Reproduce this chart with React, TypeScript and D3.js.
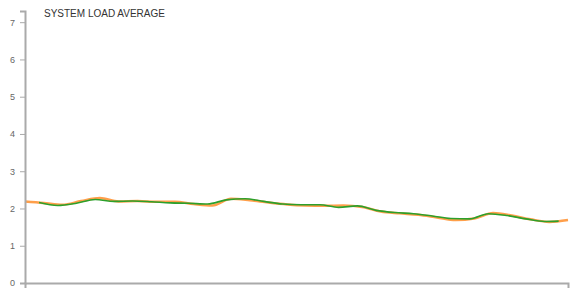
import { useRef, useEffect } from "react";
import * as d3 from "d3";

// minutes since start
const loadTimes = [0, 2, 4, 6, 8, 10, 12, 14, 16, 18, 20, 22, 24, 26, 28, 30, 32, 34, 36, 38, 40, 42, 44, 46, 48, 50, 52, 54, 56, 58];
const loadValues = [2.19, 2.15, 2.1, 2.2, 2.28, 2.19, 2.2, 2.18, 2.18, 2.12, 2.08, 2.26, 2.22, 2.16, 2.11, 2.08, 2.07, 2.08, 2.04, 1.92, 1.87, 1.83, 1.76, 1.69, 1.73, 1.88, 1.81, 1.71, 1.64, 1.69];

const avgTimes = [1.5, 3.5, 5.5, 7.5, 9.5, 11.5, 13.5, 15.5, 17.5, 19.5, 21.5, 23.5, 25.5, 27.5, 29.5, 31.5, 33.5, 35.5, 37.5, 39.5, 41.5, 43.5, 45.5, 47.5, 49.5, 51.5, 53.5, 55.5, 57];
const avgValues = [2.16, 2.08, 2.14, 2.24, 2.19, 2.2, 2.18, 2.15, 2.14, 2.12, 2.23, 2.26, 2.19, 2.12, 2.1, 2.1, 2.03, 2.07, 1.95, 1.89, 1.86, 1.8, 1.73, 1.72, 1.86, 1.81, 1.72, 1.65, 1.66];

const yTicks = [0, 1, 2, 3, 4, 5, 6, 7];
const TITLE = "SYSTEM LOAD AVERAGE";

const COLORS = {
  load: "#ff7f0e",
  avg: "#2ca02c",
  axis: "#aaa",
  axisText: "#666",
  title: "#333",
};

const width = 573;
const height = 289;

export default function App() {
  const svgRef = useRef<SVGSVGElement>(null);

  useEffect(() => {
    document.body.style.margin = "0";
    if (!svgRef.current) return;
    const svg = d3.select(svgRef.current);
    svg.selectAll("*").remove();

    const margin = { top: 11, right: 5, bottom: 6, left: 25 };
    const w = width - margin.left - margin.right;
    const h = height - margin.top - margin.bottom;

    const g = svg.append("g").attr("transform", `translate(${margin.left},${margin.top})`);

    const x = d3.scaleLinear().domain([0, 58]).range([0, w]);
    const y = d3.scaleLinear().domain([0, 7.3]).range([h, 0]);

    const line = d3
      .line<[number, number]>()
      .x((d) => x(d[0]))
      .y((d) => y(d[1]))
      .curve(d3.curveMonotoneX);

    g.append("path")
      .datum(loadTimes.map((t, i) => [t, loadValues[i]] as [number, number]))
      .attr("fill", "none")
      .attr("stroke", COLORS.load)
      .attr("stroke-opacity", 0.75)
      .attr("stroke-width", 2.5)
      .attr("d", line);

    g.append("path")
      .datum(avgTimes.map((t, i) => [t, avgValues[i]] as [number, number]))
      .attr("fill", "none")
      .attr("stroke", COLORS.avg)
      .attr("stroke-width", 1.6)
      .attr("d", line);

    // Axes
    g.append("g")
      .attr("transform", `translate(0,${h})`)
      .call(d3.axisBottom(x).tickValues([]).tickSizeOuter(5))
      .call((s) => s.select(".domain").attr("stroke", COLORS.axis).attr("stroke-width", 2));

    g.append("g")
      .call(d3.axisLeft(y).tickValues(yTicks).tickSize(5).tickSizeOuter(5).tickPadding(5))
      .call((s) => s.select(".domain").attr("stroke", COLORS.axis).attr("stroke-width", 2))
      .call((s) => s.selectAll(".tick line").attr("stroke", COLORS.axis))
      .call((s) =>
        s
          .selectAll(".tick text")
          .attr("fill", COLORS.axisText)
          .attr("font-size", "9px")
          .attr("font-family", "Liberation Sans, Arial, sans-serif")
      );

    svg
      .append("text")
      .attr("x", 44)
      .attr("y", 17)
      .attr("fill", COLORS.title)
      .attr("font-size", "10px")
      .attr("font-family", "Liberation Sans, Arial, sans-serif")
      .text(TITLE);
  }, []);

  return <svg ref={svgRef} width={width} height={height} style={{ display: "block" }} />;
}
